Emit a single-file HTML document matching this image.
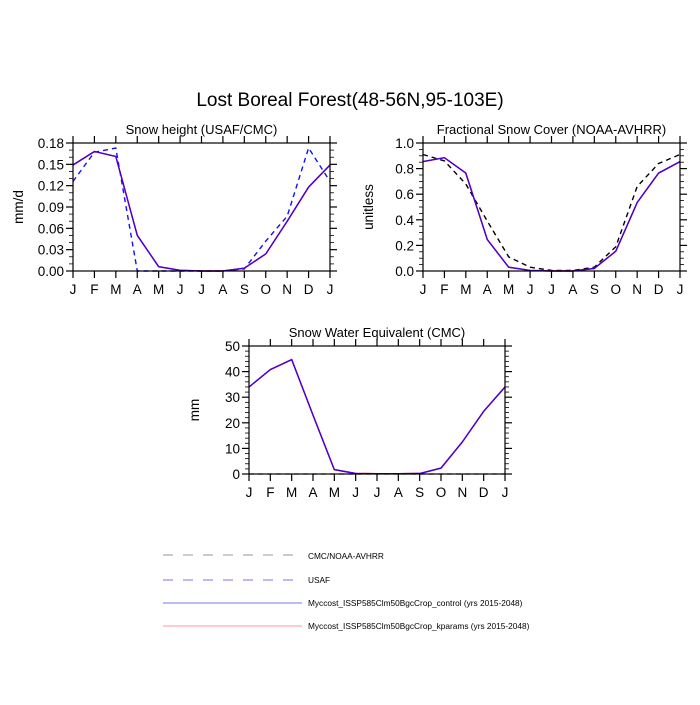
<!DOCTYPE html>
<html><head><meta charset="utf-8"><style>
body{margin:0;background:#fff;font-family:"Liberation Sans",sans-serif}
svg text{font-family:"Liberation Sans",sans-serif}
</style></head><body>
<svg id="c" width="700" height="700" xmlns="http://www.w3.org/2000/svg">
<text x="350" y="106" font-size="19" text-anchor="middle">Lost Boreal Forest(48-56N,95-103E)</text>
<g>
<line x1="163" y1="555" x2="297" y2="555" stroke="#999" stroke-dasharray="10,10"/>
<text x="308" y="559" font-size="8.3">CMC/NOAA-AVHRR</text>
<line x1="163" y1="580" x2="297" y2="580" stroke="#7777ee" stroke-dasharray="10,10"/>
<text x="308" y="583" font-size="8.3">USAF</text>
<line x1="163" y1="603" x2="302" y2="603" stroke="#7777ee"/>
<text x="308" y="606" font-size="8.3">Myccost_ISSP585Clm50BgcCrop_control (yrs 2015-2048)</text>
<line x1="163" y1="626" x2="302" y2="626" stroke="#ff9999"/>
<text x="308" y="629" font-size="8.3">Myccost_ISSP585Clm50BgcCrop_kparams (yrs 2015-2048)</text>
</g>
</svg>
<script>
const months=["J","F","M","A","M","J","J","A","S","O","N","D","J"];
const snowHeightModel=[0.149,0.168,0.161,0.050,0.006,0.001,0,0,0.004,0.024,0.070,0.118,0.149];
const snowHeightUSAF=[0.126,0.167,0.173,0,0,0,0,0,0.003,0.042,0.077,0.173,0.126];
const snowHeightTicks=["0.00","0.03","0.06","0.09","0.12","0.15","0.18"];
const fscModel=[0.855,0.885,0.765,0.245,0.03,0.005,0,0,0.02,0.155,0.535,0.765,0.855];
const fscObs=[0.91,0.86,0.68,0.39,0.11,0.03,0.005,0.005,0.03,0.19,0.66,0.84,0.91];
const fscTicks=["0.0","0.2","0.4","0.6","0.8","1.0"];
const sweModel=[34,40.8,44.7,23,1.7,0.2,0.1,0.1,0.2,2.3,12.5,24.5,34];
const sweObs=[0,0,0,0,0,0,0,0,0,0,0,0,0];
const sweTicks=["0","10","20","30","40","50"];
const NS="http://www.w3.org/2000/svg";
const svg=document.getElementById('c');
function mk(t,a,p){const e=document.createElementNS(NS,t);for(const k in a)e.setAttribute(k,a[k]);(p||svg).appendChild(e);return e;}
function panel(id,x0,x1,y0,y1,title,ylabel,ticks,minorPer,series){
  const g=mk('g',{});
  
  
  const ymin=parseFloat(ticks[0]),ymax=parseFloat(ticks[ticks.length-1]);
  const sx=i=>x0+(x1-x0)*i/(months.length-1);
  const sy=v=>y1-(y1-y0)*(v-ymin)/(ymax-ymin);
  const t=mk('text',{x:(x0+x1)/2,y:y0-9,'font-size':13,'text-anchor':'middle'},g);t.textContent=title;
  
  
  const yl=mk('text',{x:0,y:0,'font-size':13.5,'text-anchor':'middle',transform:`translate(${x0-50},${(y0+y1)/2}) rotate(-90)`},g);yl.textContent=ylabel;
  
  
  series.forEach(s=>{
    const d=s.vals.map((v,i)=>(i?'L':'M')+sx(i).toFixed(1)+','+sy(v).toFixed(1)).join(' ');
    const p=mk('path',{d,fill:'none',stroke:s.color,'stroke-width':s.w||1.4,'stroke-dasharray':s.dash||'none'},g);
    
    
  });
  const f=mk('rect',{x:x0,y:y0,width:x1-x0,height:y1-y0,fill:'none',stroke:'#000','stroke-width':1.2},g);
  
  
  const nt=ticks.length-1;
  for(let k=0;k<=nt;k++){
    const y=sy(parseFloat(ticks[k]));
    mk('line',{x1:x0-7,x2:x0,y1:y,y2:y,stroke:'#000','stroke-width':1.2},g);
    mk('line',{x1:x1,x2:x1+7,y1:y,y2:y,stroke:'#000','stroke-width':1.2},g);
    const tl=mk('text',{x:x0-9,y:y+5,'font-size':13.5,'text-anchor':'end'},g);tl.textContent=ticks[k];
    
    
    if(k<nt)for(let m=1;m<minorPer;m++){const ym=y-(y1-y0)/nt*m/minorPer;
      mk('line',{x1:x0-4,x2:x0,y1:ym,y2:ym,stroke:'#000','stroke-width':0.8},g);
      mk('line',{x1:x1,x2:x1+4,y1:ym,y2:ym,stroke:'#000','stroke-width':0.8},g);}
  }
  months.forEach((m,i)=>{const x=sx(i);
    mk('line',{x1:x,x2:x,y1:y1,y2:y1+7,stroke:'#000','stroke-width':1.2},g);
    mk('line',{x1:x,x2:x,y1:y0-7,y2:y0,stroke:'#000','stroke-width':1.2},g);
    const tl=mk('text',{x:x,y:y1+23,'font-size':13.5,'text-anchor':'middle'},g);tl.textContent=m;
    
    
  });
}
panel('snow-height-panel',73,330,143,271,'Snow height (USAF/CMC)','mm/d',snowHeightTicks,3,[
 {vals:snowHeightUSAF,color:'#1010ff',dash:'5,4',name:'usaf-line'},
 {vals:snowHeightModel,color:'#ff0000',name:'kparams-line'},
 {vals:snowHeightModel,color:'#4400dd',name:'control-line'}]);
panel('snow-cover-panel',423,680,143,271,'Fractional Snow Cover (NOAA-AVHRR)','unitless',fscTicks,4,[
 {vals:fscObs,color:'#000',dash:'5,4',name:'noaa-avhrr-line'},
 {vals:fscModel,color:'#ff0000',name:'kparams-line'},
 {vals:fscModel,color:'#4400dd',name:'control-line'}]);
panel('swe-panel',249,505,346,474,'Snow Water Equivalent (CMC)','mm',sweTicks,5,[
 {vals:sweObs,color:'#999',dash:'5,4',name:'cmc-line'},
 {vals:sweModel,color:'#ff0000',name:'kparams-line'},
 {vals:sweModel,color:'#4400dd',name:'control-line'}]);
</script>
</body></html>
